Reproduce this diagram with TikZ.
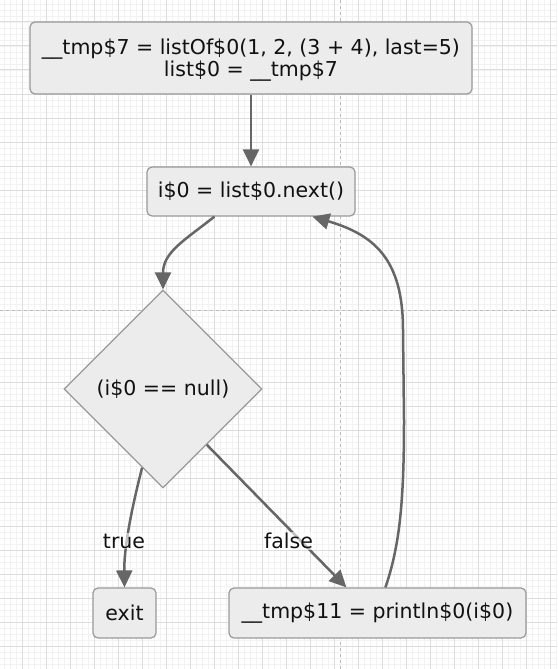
\documentclass[tikz,border=0pt]{standalone}
\usepackage{fontspec}
\setmainfont{DejaVu Sans}
\usetikzlibrary{shapes.geometric,arrows.meta,calc}
\definecolor{gridminor}{HTML}{F2F2F2}
\definecolor{gridmajor}{HTML}{DDDDDD}
\definecolor{guide}{HTML}{BBBBBB}
\definecolor{boxfill}{HTML}{ECECEC}
\definecolor{boxline}{HTML}{999999}
\definecolor{edgecol}{HTML}{666666}
\definecolor{txt}{HTML}{111111}
\tikzset{
  minorline/.style={gridminor, line width=0.8pt},
  majorline/.style={gridmajor, line width=1pt},
  guideline/.style={guide, line width=0.8pt, dash pattern=on 3pt off 3pt},
  box/.style={draw=boxline, fill=boxfill, line width=1.2pt, rounded corners=5pt,
    text=txt, inner sep=0pt, align=center, font=\fontsize{20.5}{22}\selectfont},
  decision/.style={diamond, draw=boxline, fill=boxfill, line width=1.2pt,
    text=txt, inner sep=0pt, aspect=1, font=\fontsize{20.5}{22}\selectfont},
  flow/.style={draw=edgecol, line width=2.5pt,
    -{Triangle[length=17pt,width=16pt]}},
  edgelabel/.style={fill=white, fill opacity=0.6, text opacity=1, text=txt,
    inner sep=1pt, font=\fontsize{20.5}{22}\selectfont}
}
\begin{document}
\begin{tikzpicture}[x=1pt,y=-1pt]
\useasboundingbox (0,0) rectangle (557,669);
\fill[white] (0,0) rectangle (557,669);
% grid
\foreach \k in {0,...,93} { \draw[minorline] ({-2+6*\k},0) -- ({-2+6*\k},669); }
\foreach \k in {0,...,112} { \draw[minorline] (0,{-2+6*\k}) -- (557,{-2+6*\k}); }
\foreach \k in {0,...,23} { \draw[majorline] ({-2+24*\k},0) -- ({-2+24*\k},669); }
\foreach \k in {0,...,28} { \draw[majorline] (0,{-2+24*\k}) -- (557,{-2+24*\k}); }
\draw[guideline] (340,0) -- (340,669);
\draw[guideline] (0,310) -- (557,310);

% nodes
\node[box, minimum width=442pt, minimum height=72pt] (top) at (251,58)
  {\rule{0pt}{19pt}\_\_tmp\$7 = listOf\$0(1, 2, (3 + 4), last=5)\\list\$0 = \_\_tmp\$7};
\node[box, minimum width=208pt, minimum height=49pt] (next) at (251,191.5)
  {i\$0 = list\$0.next()};
\node[decision, minimum width=198pt, minimum height=198pt] (dec) at (163,389)
  {(i\$0 == null)};
\node[box, minimum width=63pt, minimum height=50pt] (exit) at (124.5,613) {exit};
\node[box, minimum width=297pt, minimum height=50pt] (print) at (377.5,613)
  {\_\_tmp\$11 = println\$0(i\$0)};

% connectors
\draw[flow] (top.south) -- (next.north);
\coordinate (nstart) at ([xshift=68pt]next.south west);
\draw[flow] (nstart) .. controls (185,240) and (163,252) .. (dec.north);
\coordinate (tstart) at ($(dec.west)!0.79!(dec.south)$);
\draw[flow] (tstart) .. controls (130,515) and (124,550) .. (exit.north);
\coordinate (fstart) at ($(dec.east)!0.56!(dec.south)$);
\coordinate (fend) at ([xshift=118pt]print.north west);
\draw[flow] (fstart) -- (fend);
\coordinate (bstart) at ([xshift=157pt]print.north west);
\coordinate (bend) at ([xshift=166pt]next.south west);
\draw[flow] (bstart) .. controls (400,545) and (404,500) .. (404,420)
  -- (403,330) .. controls (403,260) and (375,235) .. (bend);

% labels
\node[edgelabel] (ltrue) at (124,541) {true};
\node[edgelabel] (lfalse) at (288.5,541) {false};
\end{tikzpicture}
\end{document}
